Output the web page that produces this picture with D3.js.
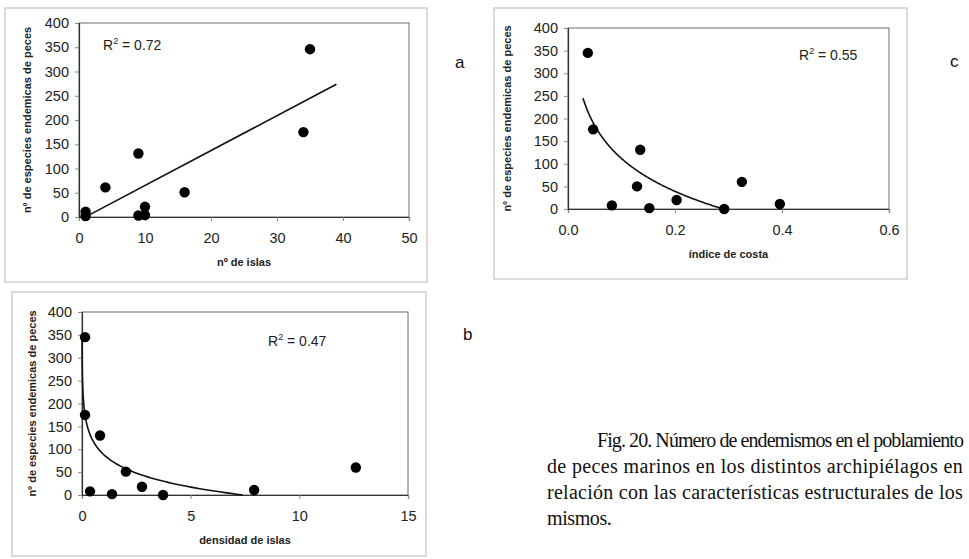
<!DOCTYPE html>
<html><head><meta charset="utf-8">
<script src="https://cdn.jsdelivr.net/npm/d3@7"></script>
<style>body{margin:0;background:#fff}svg{display:block}</style>
</head><body>
<svg id="c" width="969" height="559"></svg>
<script>
// ---- data ----
const islasX = [1, 1, 4, 9, 9, 10, 10, 16, 34, 35];
const islasY = [11, 2, 61, 131, 3, 21, 4, 51, 175, 346];
const costaX = [0.037, 0.047, 0.082, 0.129, 0.135, 0.152, 0.203, 0.292, 0.325, 0.396];
const costaY = [345, 176, 8, 50, 131, 2, 20, 0, 60, 11];
const densX = [0.14, 0.14, 0.83, 0.37, 1.38, 2.02, 2.76, 3.73, 7.92, 12.6];
const densY = [345, 175, 130, 8, 2, 51, 18, 0, 11, 60];
const yTicks = [0, 50, 100, 150, 200, 250, 300, 350, 400];
const islasTicks = [0, 10, 20, 30, 40, 50];
const costaTicks = [0, 0.2, 0.4, 0.6];
const densTicks = [0, 5, 10, 15];
// fitted trend coefficients
const fitIslas = {type: "lin", slope: 7.2, intercept: -7, from: 1, to: 39};
const fitCosta = {type: "log", a: -129.7, b: -104.8, from: 0.028, to: 0.29};
const fitDens = {type: "log", a: 88.3, b: -44.1, from: 0.003, to: 7.4};
const r2Labels = ["R² = 0.72", "R² = 0.47", "R² = 0.55"];
const yTitle = "nº de especies endemicas de peces";
const xTitles = ["nº de islas", "densidad de islas", "índice de costa"];
const panelLetters = ["a", "b", "c"];
const caption = [
  "Fig. 20. Número de endemismos en el poblamiento",
  "de peces marinos en los distintos archipiélagos en",
  "relación con las características estructurales de los",
  "mismos."
];

const svg = d3.select("#c");
const FONT = "Liberation Sans, Arial, sans-serif";

const panels = [
  {xs: islasX, ys: islasY, xt: islasTicks, fmt: d3.format("d"), xd: [0, 50], fit: fitIslas,
   box: [5, 8, 427, 282], plot: [79, 23, 409, 217], r2: r2Labels[0], r2pos: [103, 50],
   xTitle: xTitles[0], yTitleX: 27, letter: panelLetters[0], letterPos: [455, 68]},
  {xs: densX, ys: densY, xt: densTicks, fmt: d3.format("d"), xd: [0, 15], fit: fitDens,
   box: [12, 292, 426, 556], plot: [82, 312, 408, 495], r2: r2Labels[1], r2pos: [268, 346],
   xTitle: xTitles[1], yTitleX: 32, letter: panelLetters[1], letterPos: [463, 340]},
  {xs: costaX, ys: costaY, xt: costaTicks, fmt: d3.format(".1f"), xd: [0, 0.6], fit: fitCosta,
   box: [494, 8, 907, 279], plot: [568, 28, 889, 209], r2: r2Labels[2], r2pos: [799, 60],
   xTitle: xTitles[2], yTitleX: 507, letter: panelLetters[2], letterPos: [950, 67]}
];

panels.forEach(p => {
  const [bx0, by0, bx1, by1] = p.box;
  svg.append("rect").attr("x", bx0).attr("y", by0).attr("width", bx1 - bx0).attr("height", by1 - by0)
    .attr("fill", "#fff").attr("stroke", "#cfcfcf").attr("stroke-width", 1.5);
  const [px0, py0, px1, py1] = p.plot;
  const x = d3.scaleLinear().domain(p.xd).range([px0, px1]);
  const y = d3.scaleLinear().domain([0, 400]).range([py1, py0]);
  svg.append("rect").attr("x", px0).attr("y", py0).attr("width", px1 - px0).attr("height", py1 - py0)
    .attr("fill", "none").attr("stroke", "#6a6a6a").attr("stroke-width", 1);
  const gx = svg.append("g").attr("transform", `translate(0,${py1})`)
    .call(d3.axisBottom(x).tickValues(p.xt).tickFormat(p.fmt).tickSize(4).tickPadding(12));
  const gy = svg.append("g").attr("transform", `translate(${px0},0)`)
    .call(d3.axisLeft(y).tickValues(yTicks).tickSize(4).tickPadding(6));
  [gx, gy].forEach(g => {
    g.select(".domain").attr("stroke", "#333").attr("stroke-width", 1.2);
    g.selectAll(".tick line").attr("stroke", "#888");
    g.selectAll(".tick text").attr("font-family", FONT).attr("font-size", 14.5).attr("fill", "#222");
  });
  const f = p.fit;
  let pts;
  if (f.type === "lin") {
    pts = [f.from, f.to].map(v => [v, f.slope * v + f.intercept]);
  } else {
    pts = d3.range(0, 1.0001, 0.005).map(t => {
      const v = f.from * Math.pow(f.to / f.from, t);
      return [v, f.a + f.b * Math.log(v)];
    });
  }
  svg.append("path").datum(pts)
    .attr("d", d3.line().x(d => x(d[0])).y(d => y(d[1])))
    .attr("fill", "none").attr("stroke", "#111").attr("stroke-width", 1.6);
  svg.append("g").selectAll("circle").data(p.xs.map((v, i) => [v, p.ys[i]])).join("circle")
    .attr("cx", d => x(d[0])).attr("cy", d => y(d[1])).attr("r", 5.2).attr("fill", "#000");
  const r2 = svg.append("text").attr("x", p.r2pos[0]).attr("y", p.r2pos[1])
    .attr("font-family", FONT).attr("font-size", 14).attr("fill", "#222");
  r2.append("tspan").text("R");
  r2.append("tspan").attr("dy", -6).attr("font-size", 9).text("2");
  r2.append("tspan").attr("dy", 6).text(p.r2.replace("R²", ""));
  svg.append("text").attr("x", (px0 + px1) / 2).attr("y", py1 + 49).attr("text-anchor", "middle")
    .attr("font-family", FONT).attr("font-size", 11).attr("font-weight", "bold").attr("fill", "#222")
    .text(p.xTitle);
  svg.append("text").attr("transform", `translate(${p.yTitleX},${(py0 + py1) / 2}) rotate(-90)`)
    .attr("text-anchor", "middle").attr("dy", "0.35em")
    .attr("font-family", FONT).attr("font-size", 11).attr("font-weight", "bold").attr("fill", "#222")
    .text(yTitle);
  svg.append("text").attr("x", p.letterPos[0]).attr("y", p.letterPos[1])
    .attr("font-family", FONT).attr("font-size", 17).attr("fill", "#111").text(p.letter);
});

// caption: justified by adjusting tracking so each line ends near 965
const capStarts = [597, 547, 547, 547];
const capBase = [447, 473, 499, 525];
caption.forEach((line, i) => {
  const last = i === caption.length - 1;
  const t = svg.append("text").attr("x", capStarts[i]).attr("y", capBase[i])
    .attr("font-family", "Liberation Serif, Times New Roman, serif").attr("font-size", 20)
    .attr("fill", "#111").text(line);
  if (!last) {
    const target = 963 - capStarts[i];
    const nat = t.node().getComputedTextLength();
    t.attr("letter-spacing", ((target - nat) / line.length).toFixed(3));
  } else {
    t.attr("letter-spacing", -0.4);
  }
});
</script>
</body></html>
